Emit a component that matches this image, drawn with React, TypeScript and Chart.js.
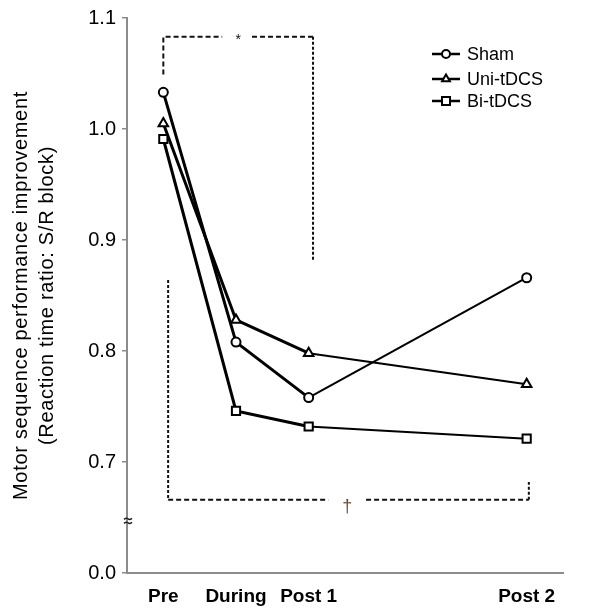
import React, { useEffect, useRef } from "react";
import { Chart, registerables } from "chart.js";

Chart.register(...registerables);

const categories = ["Pre", "During", "Post 1", "Post 2"];
const categoryPositions = [0, 1, 2, 5];
const shamValues = [1.033, 0.808, 0.758, 0.866];
const uniValues = [1.005, 0.828, 0.798, 0.77];
const biValues = [0.991, 0.746, 0.732, 0.721];
const seriesNames = ["Sham", "Uni-tDCS", "Bi-tDCS"];
const yTickValues = [0.6, 0.7, 0.8, 0.9, 1.0, 1.1];
const yTickLabels = ["0.0", "0.7", "0.8", "0.9", "1.0", "1.1"];
const yTitleLines = ["Motor sequence performance improvement", "(Reaction time ratio: S/R block)"];

const FONT = 'Arial, "Liberation Sans", sans-serif';

function toPoints(vals: number[]) {
  return vals.map((v, i) => ({ x: categoryPositions[i], y: v }));
}

function drawMarker(ctx: CanvasRenderingContext2D, style: string, x: number, y: number) {
  ctx.save();
  ctx.fillStyle = "#fff";
  ctx.strokeStyle = "#000";
  ctx.lineWidth = 2;
  ctx.beginPath();
  if (style === "circle") {
    ctx.arc(x, y, 4, 0, Math.PI * 2);
  } else if (style === "triangle") {
    const r = 4.5;
    ctx.moveTo(x, y - r);
    ctx.lineTo(x + r * 0.866, y + r * 0.5);
    ctx.lineTo(x - r * 0.866, y + r * 0.5);
    ctx.closePath();
  } else {
    ctx.rect(x - 4, y - 4, 8, 8);
  }
  ctx.fill();
  ctx.stroke();
  ctx.restore();
}

const annotationPlugin = {
  id: "annotations",
  beforeDatasetsDraw(chart: any) {
    const ctx = chart.ctx as CanvasRenderingContext2D;
    const sx = chart.scales.x;
    const sy = chart.scales.y;
    const X = (v: number) => sx.getPixelForValue(v);
    const Y = (v: number) => sy.getPixelForValue(v);
    ctx.save();
    ctx.strokeStyle = "#111";
    ctx.lineWidth = 2;
    ctx.setLineDash([5, 3]);
    // top bracket
    ctx.beginPath();
    ctx.moveTo(X(0), Y(1.049));
    ctx.lineTo(X(0), Y(1.083));
    ctx.lineTo(X(0.81), Y(1.083));
    ctx.moveTo(X(1.22), Y(1.083));
    ctx.lineTo(X(2.06), Y(1.083));
    ctx.stroke();
    ctx.setLineDash([3, 2]);
    ctx.beginPath();
    ctx.moveTo(X(2.06), Y(1.083));
    ctx.lineTo(X(2.06), Y(0.882));
    ctx.stroke();
    // bottom bracket
    ctx.beginPath();
    ctx.moveTo(X(0.066), Y(0.864));
    ctx.lineTo(X(0.066), Y(0.666));
    ctx.stroke();
    ctx.setLineDash([5, 3]);
    ctx.beginPath();
    ctx.moveTo(X(0.066), Y(0.666));
    ctx.lineTo(X(2.27), Y(0.666));
    ctx.moveTo(X(2.79), Y(0.666));
    ctx.lineTo(X(5.03), Y(0.666));
    ctx.stroke();
    ctx.setLineDash([3, 2]);
    ctx.beginPath();
    ctx.moveTo(X(5.03), Y(0.666));
    ctx.lineTo(X(5.03), Y(0.682));
    ctx.stroke();
    ctx.setLineDash([]);
    ctx.textAlign = "center";
    ctx.textBaseline = "middle";
    ctx.fillStyle = "#111";
    ctx.font = `14px ${FONT}`;
    ctx.fillText("*", X(1.03), Y(1.08));
    ctx.fillStyle = "#6b4a32";
    ctx.font = `18px ${FONT}`;
    ctx.fillText("†", X(2.53), Y(0.659));
    ctx.restore();
  },
  afterDraw(chart: any) {
    const ctx = chart.ctx as CanvasRenderingContext2D;
    const sx = chart.scales.x;
    const sy = chart.scales.y;
    // axis break mark
    ctx.save();
    const bx = sx.left + 1;
    const by = sy.getPixelForValue(0.647);
    ctx.strokeStyle = "#222";
    ctx.lineWidth = 1.5;
    [-2, 2].forEach((d) => {
      ctx.beginPath();
      ctx.moveTo(bx - 4, by + d + 0.5);
      ctx.quadraticCurveTo(bx - 1.5, by + d - 1.5, bx, by + d);
      ctx.quadraticCurveTo(bx + 1.5, by + d + 1.5, bx + 4, by + d - 0.5);
      ctx.stroke();
    });
    ctx.restore();

    // y-axis title
    ctx.save();
    const cy = (sy.top + sy.bottom) / 2;
    ctx.fillStyle = "#000";
    ctx.font = `20px ${FONT}`;
    (ctx as any).letterSpacing = "0.7px";
    ctx.textAlign = "center";
    ctx.textBaseline = "alphabetic";
    const lineX = [27, 53];
    yTitleLines.forEach((t, i) => {
      ctx.save();
      ctx.translate(lineX[i], cy);
      ctx.rotate(-Math.PI / 2);
      ctx.fillText(t, 0, 0);
      ctx.restore();
    });
    ctx.restore();

    // legend
    const styles = ["circle", "triangle", "rect"];
    const rows = [54, 79, 101];
    ctx.save();
    seriesNames.forEach((name, i) => {
      const y = rows[i];
      ctx.strokeStyle = "#000";
      ctx.lineWidth = 2.5;
      ctx.beginPath();
      ctx.moveTo(432, y);
      ctx.lineTo(460, y);
      ctx.stroke();
      drawMarker(ctx, styles[i], 446, y);
      ctx.fillStyle = "#000";
      ctx.font = `18px ${FONT}`;
      ctx.textAlign = "left";
      ctx.textBaseline = "middle";
      ctx.fillText(name, 467, y + 1);
    });
    ctx.restore();
  },
};

export default function App() {
  const canvasRef = useRef<HTMLCanvasElement | null>(null);

  useEffect(() => {
    document.body.style.margin = "0";
    const canvas = canvasRef.current;
    if (!canvas) return;
    const segWidth = (ctx: any) => (ctx.p1DataIndex === 3 ? 2 : 3);
    const common = {
      borderColor: "#000",
      backgroundColor: "#fff",
      pointBackgroundColor: "#fff",
      pointBorderColor: "#000",
      pointBorderWidth: 2,
      borderWidth: 3,
      tension: 0,
      segment: { borderWidth: segWidth },
    };
    const chart = new Chart(canvas, {
      type: "line",
      data: {
        datasets: [
          { ...common, label: seriesNames[0], data: toPoints(shamValues), pointStyle: "circle", pointRadius: 4.5 },
          { ...common, label: seriesNames[1], data: toPoints(uniValues), pointStyle: "triangle", pointRadius: 5.5 },
          { ...common, label: seriesNames[2], data: toPoints(biValues), pointStyle: "rect", pointRadius: 5.8 },
        ].reverse(),
      },
      options: {
        animation: false,
        responsive: true,
        maintainAspectRatio: false,
        layout: { padding: { left: 0, right: 37, top: 15, bottom: 0 } },
        plugins: { legend: { display: false }, tooltip: { enabled: false } },
        scales: {
          x: {
            type: "linear",
            min: -0.5,
            max: 5.5,
            afterBuildTicks: (scale: any) => {
              scale.ticks = categoryPositions.map((v) => ({ value: v }));
            },
            afterFit: (scale: any) => {
              scale.height = 43;
            },
            grid: { display: false },
            border: { display: true, color: "#8c8c8c", width: 2 },
            ticks: {
              padding: 4,
              color: "#000",
              font: { family: FONT, size: 19, weight: "bold" },
              maxRotation: 0,
              autoSkip: false,
              callback: (v: any) => {
                const i = categoryPositions.indexOf(Number(v));
                return i >= 0 ? categories[i] : "";
              },
            },
          },
          y: {
            type: "linear",
            min: 0.6,
            max: 1.1,
            afterBuildTicks: (scale: any) => {
              scale.ticks = yTickValues.map((v) => ({ value: v }));
            },
            afterFit: (scale: any) => {
              scale.width = 127;
            },
            grid: { drawOnChartArea: false, drawTicks: true, tickLength: 5, color: "#8c8c8c", lineWidth: 1.5 },
            border: { display: true, color: "#8c8c8c", width: 2 },
            title: { display: false },
            ticks: {
              padding: 6,
              color: "#000",
              font: { family: FONT, size: 20 },
              callback: (v: any) => {
                const i = yTickValues.findIndex((t) => Math.abs(t - Number(v)) < 1e-6);
                return i >= 0 ? yTickLabels[i] : "";
              },
            },
          },
        },
      },
      plugins: [annotationPlugin],
    } as any);
    return () => chart.destroy();
  }, []);

  return (
    <div style={{ position: "absolute", left: 0, top: 0, width: 600, height: 616 }}>
      <canvas ref={canvasRef} />
    </div>
  );
}
